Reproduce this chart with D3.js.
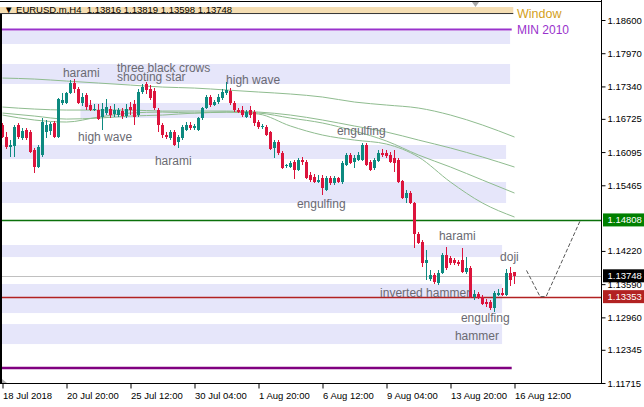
<!DOCTYPE html>
<html><head><meta charset="utf-8">
<script src="https://cdn.jsdelivr.net/npm/d3@7/dist/d3.min.js"></script>
<style>
body{margin:0;background:#fff;}
svg{display:block;font-family:"Liberation Sans",Arial,sans-serif;}
</style></head><body>
<svg id="c" width="644" height="407"></svg>
<script>
// ---------- DATA ----------
const headerText = "\u25BC EURUSD.m,H4  1.13816 1.13819 1.13598 1.13748";

const opens = [1.16608,1.16380,1.16190,1.16209,1.16608,1.16361,1.16513,1.16475,1.16134,1.15811,
1.16039,1.16475,1.16494,1.16646,1.16380,1.17025,1.17025,1.17215,1.17404,1.17290,
1.17025,1.17177,1.16987,1.16892,1.16892,1.16759,1.16835,1.16911,1.16816,1.16797,
1.16873,1.16778,1.16949,1.17006,1.16797,1.17234,1.17385,1.17290,1.17253,1.16892,
1.16608,1.16418,1.16361,1.16475,1.16285,1.16361,1.16513,1.16608,1.16551,1.16513,
1.16740,1.16930,1.17139,1.16987,1.17044,1.17120,1.17215,1.17253,1.17025,1.16892,
1.16892,1.16759,1.16892,1.16854,1.16665,1.16570,1.16570,1.16475,1.16172,1.16285,
1.16077,1.15830,1.15811,1.15906,1.15754,1.15944,1.15906,1.15659,1.15621,1.15526,
1.15602,1.15375,1.15602,1.15507,1.15602,1.15526,1.15849,1.16039,1.15906,1.15944,
1.15944,1.16228,1.15906,1.15792,1.15925,1.16077,1.16077,1.16039,1.15982,1.15944,
1.15545,1.15223,1.15318,1.15128,1.14540,1.14388,1.13990,1.13686,1.13762,1.13611,
1.13800,1.14142,1.14085,1.14047,1.14009,1.14047,1.13819,1.13895,1.13345,1.13402,
1.13345,1.13250,1.13250,1.13136,1.13383,1.13421,1.13383,1.13800,1.13816];
const highs = [1.16646,1.16475,1.16323,1.16608,1.16646,1.16551,1.16551,1.16513,1.16172,1.16228,
1.16740,1.16703,1.16665,1.16684,1.17120,1.17215,1.17234,1.17461,1.17480,1.17328,
1.17215,1.17215,1.17082,1.17006,1.17006,1.17025,1.17101,1.16968,1.17006,1.16930,
1.16930,1.17006,1.17044,1.17082,1.17290,1.17385,1.17423,1.17366,1.17309,1.16930,
1.16646,1.16475,1.16513,1.16513,1.16418,1.16608,1.16665,1.16665,1.16627,1.16759,
1.16949,1.17177,1.17177,1.17082,1.17196,1.17290,1.17423,1.17309,1.17063,1.16930,
1.16968,1.16892,1.16968,1.16892,1.16703,1.16627,1.16608,1.16494,1.16323,1.16323,
1.16115,1.15868,1.15925,1.15944,1.15982,1.16001,1.15944,1.15716,1.15678,1.15659,
1.15659,1.15640,1.15640,1.15640,1.15621,1.15925,1.16077,1.16077,1.16039,1.16096,
1.16266,1.16266,1.15944,1.15982,1.16134,1.16153,1.16134,1.16096,1.16134,1.15982,
1.15564,1.15375,1.15356,1.15147,1.14578,1.14426,1.14237,1.13857,1.13800,1.13857,
1.14180,1.14293,1.14123,1.14085,1.14047,1.14274,1.14104,1.13933,1.13478,1.13440,
1.13383,1.13307,1.13288,1.13459,1.13497,1.13516,1.13876,1.13914,1.13819];
const lows = [1.16361,1.16153,1.16001,1.16001,1.16342,1.16323,1.16323,1.16077,1.15697,1.15792,
1.16001,1.16361,1.16418,1.16361,1.16361,1.16987,1.17006,1.17196,1.17215,1.17006,
1.16968,1.16892,1.16873,1.16873,1.16703,1.16513,1.16797,1.16740,1.16759,1.16759,
1.16721,1.16740,1.16797,1.16608,1.16759,1.17196,1.17196,1.17082,1.16892,1.16475,
1.16361,1.16342,1.16323,1.16209,1.16172,1.16323,1.16494,1.16513,1.16513,1.16494,
1.16703,1.16911,1.16949,1.16968,1.17006,1.17082,1.17177,1.16987,1.16854,1.16835,
1.16759,1.16740,1.16740,1.16589,1.16532,1.16532,1.16399,1.16134,1.15982,1.16039,
1.15773,1.15792,1.15792,1.15583,1.15735,1.15849,1.15583,1.15526,1.15507,1.15507,
1.15280,1.15356,1.15469,1.15469,1.15507,1.15488,1.15830,1.15868,1.15792,1.15925,
1.15925,1.15830,1.15735,1.15754,1.15906,1.16001,1.15982,1.15887,1.15716,1.15507,
1.15204,1.15128,1.15109,1.14274,1.14350,1.13914,1.13668,1.13649,1.13592,1.13573,
1.13781,1.13857,1.13952,1.13952,1.13933,1.13800,1.13781,1.13326,1.13288,1.13307,
1.13193,1.13155,1.13098,1.13060,1.13364,1.13364,1.13364,1.13554,1.13598];
const closes = [1.16380,1.16190,1.16228,1.16570,1.16380,1.16494,1.16361,1.16096,1.15811,1.16190,
1.16665,1.16608,1.16627,1.16380,1.17101,1.17082,1.17215,1.17404,1.17290,1.17025,
1.17139,1.16949,1.16892,1.16911,1.16721,1.16911,1.16949,1.16797,1.16892,1.16892,
1.16778,1.16911,1.16892,1.16759,1.17234,1.17328,1.17272,1.17120,1.16930,1.16608,
1.16418,1.16380,1.16475,1.16228,1.16380,1.16570,1.16608,1.16551,1.16589,1.16740,
1.16930,1.17139,1.16987,1.17044,1.17139,1.17234,1.17272,1.17025,1.16892,1.16854,
1.16797,1.16854,1.16797,1.16646,1.16570,1.16589,1.16418,1.16153,1.16285,1.16077,
1.15792,1.15849,1.15887,1.15754,1.15944,1.15906,1.15602,1.15564,1.15526,1.15564,
1.15412,1.15602,1.15507,1.15602,1.15526,1.15887,1.16039,1.15887,1.15982,1.16039,
1.16228,1.15849,1.15754,1.15944,1.16077,1.16039,1.16020,1.15906,1.15887,1.15526,
1.15223,1.15318,1.15128,1.14540,1.14369,1.13990,1.14047,1.13762,1.13630,1.13800,
1.14142,1.13895,1.13990,1.13990,1.13971,1.13819,1.13895,1.13345,1.13402,1.13326,
1.13212,1.13212,1.13136,1.13421,1.13421,1.13383,1.13800,1.13668,1.13748];

const timeTickBars = [0,16,32,48,64,80,96,112,128];
const timeTickLabels = ["18 Jul 2018","20 Jul 20:00","25 Jul 12:00","30 Jul 04:00","1 Aug 20:00","6 Aug 12:00","9 Aug 04:00","13 Aug 20:00","16 Aug 12:00"];
const priceTicks = [1.18600,1.17970,1.17340,1.16725,1.16095,1.15465,1.14220,1.13590,1.12960,1.12345,1.11715];

const maBars = [0,8,16,24,32,40,48,56,64,72,80,88,96,104,112,120,128];
const ma1 = [1.17499,1.17480,1.17442,1.17404,1.17366,1.17328,1.17309,1.17272,1.17234,1.17196,1.17139,1.17044,1.16987,1.16930,1.16797,1.16608,1.16380];
const ma2 = [1.16949,1.16911,1.16892,1.16892,1.16892,1.16873,1.16873,1.16873,1.16854,1.16797,1.16703,1.16589,1.16475,1.16323,1.16172,1.16001,1.15811];
const ma3 = [1.16835,1.16778,1.16721,1.16740,1.16778,1.16797,1.16835,1.16854,1.16835,1.16740,1.16646,1.16494,1.16304,1.16039,1.15811,1.15564,1.15318];
const ma4 = [1.16797,1.16703,1.16665,1.16759,1.16835,1.16854,1.16835,1.16854,1.16816,1.16589,1.16418,1.16323,1.16247,1.16001,1.15526,1.15128,1.14863];

// zones: top price, bottom price, start bar, end bar
const zoneTop = [1.18391,1.17765,1.17025,1.16229,1.15527,1.14332,1.13592,1.12833];
const zoneBottom = [1.18145,1.17386,1.16741,1.15963,1.15129,1.14104,1.13042,1.12454];
const zoneStart = [-1,-1,19.5,-1,-1,-1,-1,-1];
const zoneEnd = [126.9,126.9,62,125.9,125.9,124.9,124.9,124.9];

const windowTop = 1.18846, windowBottom = 1.18732, windowEnd = 127.7;
const min2010 = 1.18419, lowLine = 1.11998, linesEnd = 127.3;
const greenLevel = 1.14808, bidLevel = 1.13748, redLevel = 1.13353;

const forecastBars = [131,134.4,135.9,144.5];
const forecastPrices = [1.13850,1.13353,1.13353,1.14808];

const patternNames = ["harami","three black crows","shooting star","high wave","high wave","harami","engulfing","engulfing","harami","doji","inverted hammer","engulfing","hammer"];
const patternBars = [15.1,28.6,28.6,55.9,18.9,38.1,83.6,73.6,109.1,124.4,94.4,114.6,113.1];
const patternPrices = [1.17518,1.17613,1.17452,1.17395,1.16314,1.15849,1.16428,1.15033,1.14426,1.14037,1.13345,1.12880,1.12529];

// ---------- DRAW ----------
const svg = d3.select("#c");
const x = d3.scaleLinear().domain([0,128]).range([2.5,514.5]);
const y = d3.scaleLinear().domain([1.18600,1.11715]).range([20,383]);
const XR = 601.5;

svg.append("rect").attr("width",644).attr("height",407).attr("fill","#fff");

// zones
const zg = svg.append("g");
zoneTop.forEach((t,i)=>{
  const x0 = zoneStart[i] < 0 ? 2 : x(zoneStart[i]);
  zg.append("rect").attr("x",x0).attr("y",y(t))
    .attr("width",x(zoneEnd[i])-x0).attr("height",y(zoneBottom[i])-y(t))
    .attr("fill","#e6e6fa");
});

// window band
svg.append("rect").attr("x",0).attr("y",y(windowTop)).attr("width",x(windowEnd))
  .attr("height",y(windowBottom)-y(windowTop)).attr("fill","#f5deb3");
svg.append("clipPath").attr("id","hc").append("rect").attr("x",0).attr("y",y(windowTop)).attr("width",600).attr("height",20);
svg.append("text").attr("x",4).attr("y",12.5).attr("clip-path","url(#hc)")
  .attr("font-size","9.5px").attr("fill","#000").style("white-space","pre")
  .text(headerText);
svg.append("line").attr("x1",0).attr("x2",x(windowEnd)).attr("y1",y(windowBottom)+0.5).attr("y2",y(windowBottom)+0.5)
  .attr("stroke","#333").attr("stroke-width",1);

// level lines
svg.append("line").attr("x1",2).attr("x2",x(linesEnd)).attr("y1",y(min2010)).attr("y2",y(min2010))
  .attr("stroke","#9932cc").attr("stroke-width",2);
svg.append("line").attr("x1",2).attr("x2",x(linesEnd)).attr("y1",y(lowLine)).attr("y2",y(lowLine))
  .attr("stroke","#800080").attr("stroke-width",2.5);
svg.append("line").attr("x1",2).attr("x2",XR).attr("y1",Math.round(y(greenLevel))+0.5).attr("y2",Math.round(y(greenLevel))+0.5)
  .attr("stroke","#0a700a").attr("stroke-width",1.3);
svg.append("line").attr("x1",2).attr("x2",XR).attr("y1",Math.round(y(bidLevel))+0.5).attr("y2",Math.round(y(bidLevel))+0.5)
  .attr("stroke","#c0c0c0").attr("stroke-width",1);
svg.append("line").attr("x1",2).attr("x2",XR).attr("y1",Math.round(y(redLevel))+0.5).attr("y2",Math.round(y(redLevel))+0.5)
  .attr("stroke","#b22222").attr("stroke-width",1.3);

// moving averages
const line = d3.line().x(d=>x(d[0])).y(d=>y(d[1])).curve(d3.curveMonotoneX);
[ma1,ma2,ma3,ma4].forEach(m=>{
  svg.append("path").attr("d",line(maBars.map((b,i)=>[b,m[i]])))
    .attr("fill","none").attr("stroke","#8fbc8f").attr("stroke-width",1);
});

// candles
const cg = svg.append("g").attr("shape-rendering","crispEdges");
opens.forEach((o,i)=>{
  const c = closes[i], up = c >= o;
  const col = up ? "#0d8a80" : "#dc143c";
  const cx = x(i);
  cg.append("line").attr("x1",cx).attr("x2",cx).attr("y1",y(highs[i])).attr("y2",y(lows[i]))
    .attr("stroke",col).attr("stroke-width",1);
  const yt = y(Math.max(o,c)), yb = y(Math.min(o,c));
  cg.append("rect").attr("x",cx-1.5).attr("y",yt).attr("width",3).attr("height",Math.max(1,yb-yt)).attr("fill",col);
});

// forecast
svg.append("path").attr("d",d3.line().x(d=>x(d[0])).y(d=>y(d[1]))(forecastBars.map((b,i)=>[b,forecastPrices[i]])))
  .attr("fill","none").attr("stroke","#555").attr("stroke-width",1).attr("stroke-dasharray","4,2");

// pattern labels
patternNames.forEach((n,i)=>{
  svg.append("text").attr("x",x(patternBars[i])).attr("y",y(patternPrices[i]))
    .attr("font-size","12px").attr("fill","#6a6a72").text(n);
});

// legend labels
svg.append("text").attr("x",517).attr("y",18).attr("font-size","12.5px").attr("fill","#d4a020").text("Window");
svg.append("text").attr("x",517).attr("y",34).attr("font-size","12px").attr("fill","#9932cc").text("MIN 2010");

// frame
svg.append("line").attr("x1",0).attr("x2",XR).attr("y1",1.5).attr("y2",1.5).attr("stroke","#000");
svg.append("line").attr("x1",1).attr("x2",1).attr("y1",y(windowBottom)+1).attr("y2",383.5).attr("stroke","#000").attr("stroke-width",2);
svg.append("line").attr("x1",XR).attr("x2",XR).attr("y1",0).attr("y2",384).attr("stroke","#000");
svg.append("line").attr("x1",0).attr("x2",XR).attr("y1",383.5).attr("y2",383.5).attr("stroke","#000");
svg.append("path").attr("d","M472,2 L479,2 L475.5,7 Z").attr("fill","#a8a8a8");
svg.append("path").attr("d","M2,379 L2,383 L7,383 Z").attr("fill","#b0b0b0");

// y axis
const ya = svg.append("g").attr("transform",`translate(${XR},0)`)
  .call(d3.axisRight(y).tickValues(priceTicks).tickFormat(d3.format(".5f")).tickSize(4).tickPadding(2));
ya.select(".domain").remove();
ya.selectAll("text").attr("font-size","9.5px").attr("fill","#000").attr("font-family","Liberation Sans, Arial, sans-serif");
ya.selectAll("line").attr("stroke","#000");

// x axis
const xa = svg.append("g").attr("transform","translate(0,383.5)")
  .call(d3.axisBottom(x).tickValues(timeTickBars).tickFormat((d,i)=>timeTickLabels[i]).tickSize(5).tickPadding(4));
xa.select(".domain").remove();
xa.selectAll("text").attr("text-anchor","start").attr("font-size","9.5px").attr("fill","#000")
  .attr("font-family","Liberation Sans, Arial, sans-serif");
xa.selectAll("line").attr("stroke","#000");

// price tags
function tag(p, fill){
  const cy = y(p);
  svg.append("rect").attr("x",XR+1.5).attr("y",cy-6.5).attr("width",644-XR).attr("height",13).attr("fill",fill);
  svg.append("text").attr("x",XR+6).attr("y",cy+3.5).attr("font-size","9.5px").attr("fill","#fff").text(d3.format(".5f")(p));
}
tag(greenLevel,"#008000");
tag(bidLevel,"#000000");
tag(redLevel,"#b22222");
</script>
</body></html>
